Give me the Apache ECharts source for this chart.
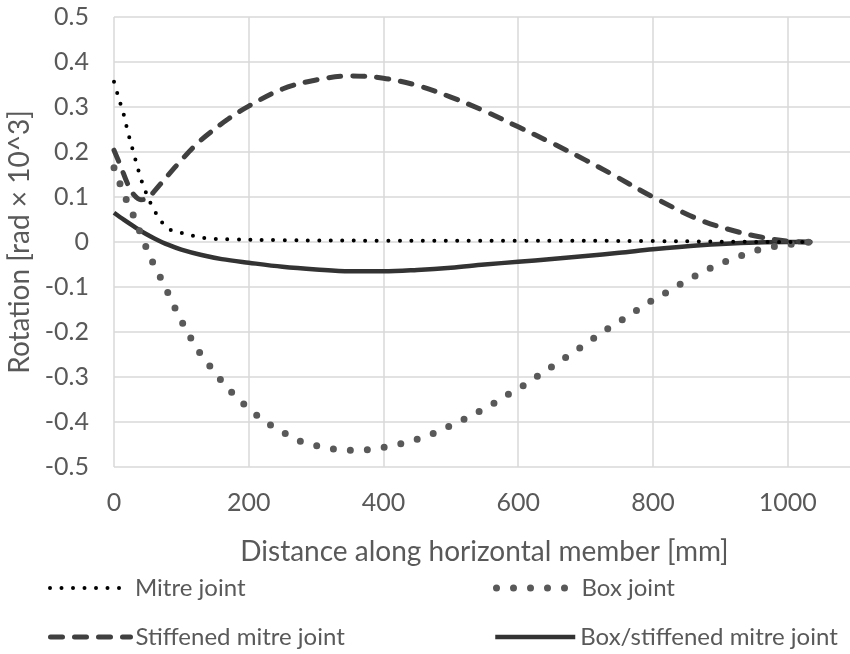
<!DOCTYPE html>
<html>
<head>
<meta charset="utf-8">
<script src="https://cdn.jsdelivr.net/npm/echarts@6/dist/echarts.min.js"></script>
<style>html,body{margin:0;padding:0;background:#fff}#c{width:850px;height:654px}</style>
</head>
<body>
<div id="c"></div>
<script>
// x = distance along horizontal member [mm], y = rotation [rad x 10^3]
const mitreX = [0,5,10,15,20,25,30,35,40,45,50,60,70,80,90,100,120,140,170,250,400,600,800,1000,1035];
const mitreY = [0.356,0.33,0.305,0.28,0.248,0.22,0.193,0.166,0.14,0.12,0.1,0.07,0.046,0.03,0.024,0.02,0.013,0.008,0.006,0.004,0.003,0.003,0.002,0.0,0.0];

const boxX = [0,10,20,30,40,50,60,70,80,90,100,115,130,145,160,180,200,220,240,260,280,305,330,355,380,405,430,455,480,500,525,545,570,590,610,630,655,675,695,715,740,760,780,800,825,845,870,890,915,940,960,985,1010,1035];
const boxY = [0.165,0.125,0.088,0.055,0.017,-0.02,-0.053,-0.082,-0.113,-0.145,-0.175,-0.216,-0.252,-0.281,-0.309,-0.342,-0.37,-0.394,-0.414,-0.43,-0.445,-0.454,-0.461,-0.463,-0.461,-0.455,-0.447,-0.436,-0.422,-0.408,-0.39,-0.374,-0.353,-0.334,-0.317,-0.297,-0.272,-0.252,-0.232,-0.211,-0.186,-0.168,-0.148,-0.129,-0.108,-0.09,-0.07,-0.055,-0.039,-0.026,-0.016,-0.009,-0.004,0.0];

const stiffX = [0,10,20,30,40,50,60,80,100,120,140,170,200,250,300,350,400,450,500,550,600,650,700,740,800,870,920,960,1000,1035];
const stiffY = [0.204,0.168,0.13,0.104,0.094,0.097,0.113,0.148,0.182,0.214,0.24,0.274,0.302,0.34,0.36,0.369,0.364,0.348,0.322,0.291,0.256,0.22,0.182,0.15,0.1,0.049,0.025,0.011,0.002,0.0];

const boxStiffX = [0,15,30,45,60,80,100,130,160,200,250,300,350,400,450,500,550,600,650,700,750,800,870,930,1000,1035];
const boxStiffY = [0.065,0.049,0.034,0.02,0.008,-0.006,-0.017,-0.029,-0.038,-0.046,-0.055,-0.061,-0.065,-0.065,-0.062,-0.057,-0.05,-0.044,-0.038,-0.031,-0.024,-0.016,-0.007,-0.002,0.0,0.0];

const seriesNames = ['Mitre joint','Box joint','Stiffened mitre joint','Box/stiffened mitre joint'];
const xTicks = {min:0, max:1100, interval:200};
const yTicks = {min:-0.5, max:0.5, interval:0.1};

function pairs(xs, ys){ return xs.map((x,i)=>[x, ys[i]]); }

const FONT = 'Lato';
const TXT = '#595959';

const styles = [
  {color:'#000000', width:4, type:[0,11.5], cap:'round'},
  {color:'#595959', width:7, type:[0,17], cap:'round'},
  {color:'#404040', width:5, type:[12,12], cap:'round'},
  {color:'#333333', width:4.5, type:'solid', cap:'butt'}
];
const data = [pairs(mitreX,mitreY), pairs(boxX,boxY), pairs(stiffX,stiffY), pairs(boxStiffX,boxStiffY)];
const legendPos = [{left:48, top:576},{left:493, top:576},{left:48, top:625},{left:493, top:625}];

const chart = echarts.init(document.getElementById('c'), null, {renderer:'canvas'});
chart.setOption({
  backgroundColor:'#ffffff',
  animation:false,
  textStyle:{fontFamily:FONT},
  grid:{left:114, top:17, width:741, height:450, containLabel:false, outerBoundsMode:'none'},
  xAxis:{
    type:'value', min:xTicks.min, max:xTicks.max, interval:xTicks.interval,
    name:'Distance along horizontal member [mm]', nameLocation:'middle', nameGap:71,
    nameTextStyle:{color:TXT, fontSize:28, fontFamily:FONT},
    axisLine:{show:false}, axisTick:{show:false},
    axisLabel:{color:TXT, fontSize:25, fontFamily:FONT, margin:23, showMaxLabel:false,
      formatter:v=>String(v)},
    splitLine:{show:true, lineStyle:{color:'#d9d9d9', width:1.5}}
  },
  yAxis:{
    type:'value', min:yTicks.min, max:yTicks.max, interval:yTicks.interval,
    name:'Rotation [rad × 10^3]', nameLocation:'middle', nameGap:72, nameRotate:90,
    nameTextStyle:{color:TXT, fontSize:28, fontFamily:FONT},
    axisLine:{show:false}, axisTick:{show:false},
    axisLabel:{color:TXT, fontSize:25, fontFamily:FONT, margin:25,
      formatter:v=>String(Math.round(v*10)/10)},
    splitLine:{show:true, lineStyle:{color:'#d9d9d9', width:1.5}}
  },
  legend: seriesNames.map((n,i)=>({
    data:[n], left:legendPos[i].left, top:legendPos[i].top, orient:'horizontal',
    itemWidth:80, itemHeight:14, padding:0,
    textStyle:{color:TXT, fontSize:24, fontFamily:FONT},
    lineStyle:{color:styles[i].color, width:styles[i].width, type:styles[i].type, cap:styles[i].cap},
    itemStyle:{opacity:0}
  })),
  series: seriesNames.map((n,i)=>({
    name:n, type:'line', data:data[i], smooth:0.35, symbol:'none', showSymbol:false,
    lineStyle:{color:styles[i].color, width:styles[i].width, type:styles[i].type, cap:styles[i].cap, join:'round'},
    itemStyle:{color:styles[i].color},
    z: 10-i
  }))
});
</script>
</body>
</html>
